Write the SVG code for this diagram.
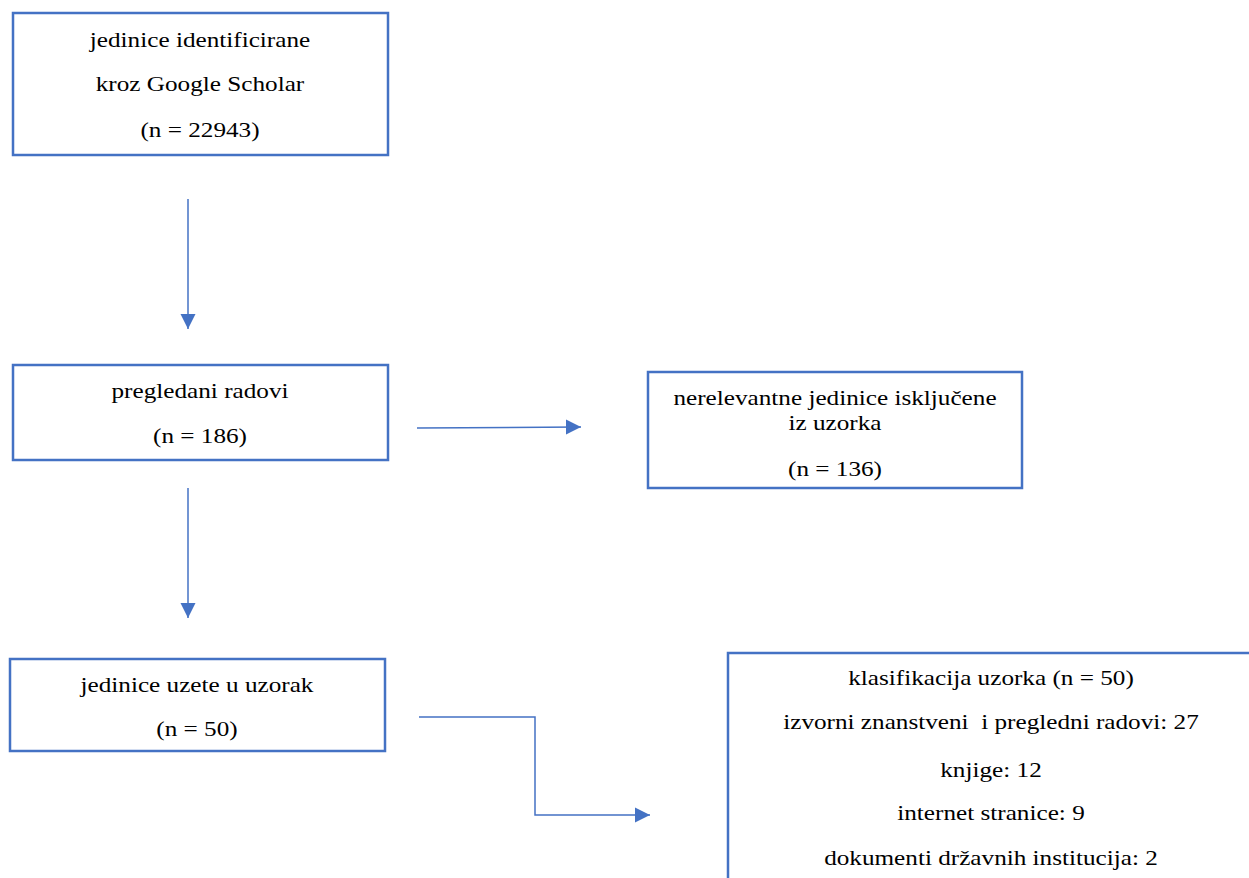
<svg xmlns="http://www.w3.org/2000/svg" width="1249" height="878" viewBox="0 0 1249 878">
<style>
.box{fill:#fff;stroke:#4472C4;stroke-width:2.5}
.t{font-family:"Liberation Serif","DejaVu Serif",serif;font-size:21px;fill:#000;text-anchor:middle}
.c{fill:none;stroke:#4472C4;stroke-width:1.5}
</style>
<defs>
<marker id="ah" viewBox="0 0 10 10" refX="10" refY="5" markerWidth="15" markerHeight="16" markerUnits="userSpaceOnUse" orient="auto">
<path d="M0,0 L10,5 L0,10 z" fill="#4472C4"/>
</marker>
</defs>
<rect width="1249" height="878" fill="#fff"/>
<g id="n1">
<rect class="box" x="13" y="13" width="375" height="142"/>
<text class="t" transform="matrix(1.2 0 0 1 200 47)">jedinice identificirane</text>
<text class="t" transform="matrix(1.2 0 0 1 200 91)">kroz Google Scholar</text>
<text class="t" transform="matrix(1.2 0 0 1 200 137)">(n = 22943)</text>
</g>
<g id="n2">
<rect class="box" x="13" y="365" width="375" height="95"/>
<text class="t" transform="matrix(1.2 0 0 1 200 398)">pregledani radovi</text>
<text class="t" transform="matrix(1.2 0 0 1 200 443)">(n = 186)</text>
</g>
<g id="n3">
<rect class="box" x="648" y="372" width="374" height="116"/>
<text class="t" transform="matrix(1.2 0 0 1 835 405)">nerelevantne jedinice isključene</text>
<text class="t" transform="matrix(1.2 0 0 1 835 430)">iz uzorka</text>
<text class="t" transform="matrix(1.2 0 0 1 835 476)">(n = 136)</text>
</g>
<g id="n4">
<rect class="box" x="10" y="659" width="375" height="92"/>
<text class="t" transform="matrix(1.2 0 0 1 197 692)">jedinice uzete u uzorak</text>
<text class="t" transform="matrix(1.2 0 0 1 197 736)">(n = 50)</text>
</g>
<g id="n5">
<rect class="box" x="728" y="653" width="540" height="240"/>
<text class="t" transform="matrix(1.2 0 0 1 991 685)">klasifikacija uzorka (n = 50)</text>
<text class="t" transform="matrix(1.2 0 0 1 991 729)" xml:space="preserve">izvorni znanstveni  i pregledni radovi: 27</text>
<text class="t" transform="matrix(1.2 0 0 1 991 777)">knjige: 12</text>
<text class="t" transform="matrix(1.2 0 0 1 991 820)">internet stranice: 9</text>
<text class="t" transform="matrix(1.2 0 0 1 991 865)">dokumenti državnih institucija: 2</text>
</g>
<g id="connectors">
<line class="c" x1="188" y1="199" x2="188" y2="329" marker-end="url(#ah)"/>
<line class="c" x1="188" y1="488" x2="188" y2="618" marker-end="url(#ah)"/>
<line class="c" x1="417" y1="428" x2="581" y2="427" marker-end="url(#ah)"/>
<polyline class="c" points="419,717 535,717 535,815 650,815" marker-end="url(#ah)"/>
</g>
</svg>
